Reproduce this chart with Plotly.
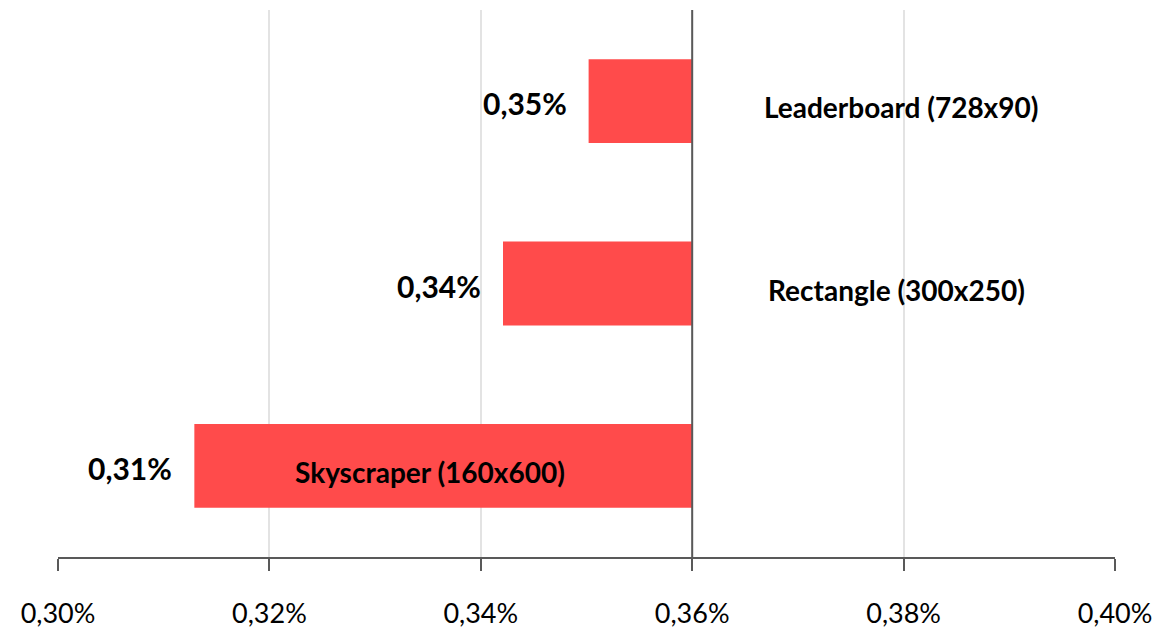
import plotly.graph_objects as go

categories = ["Leaderboard (728x90)", "Rectangle (300x250)", "Skyscraper (160x600)"]
values = [0.003502, 0.003421, 0.003129]
base_value = 0.0036
tick_vals = [0.0030, 0.0032, 0.0034, 0.0036, 0.0038, 0.0040]
# x-position (data units) for category label placement
label_x = [0.003798, 0.003793, 0.003352]

def fmt(v):
    return f"{v*100:.2f}".replace(".", ",") + "%"

fig = go.Figure()
fig.add_trace(go.Bar(
    y=categories,
    x=[v - base_value for v in values],
    base=base_value,
    orientation="h",
    marker=dict(color="#FF4B4B", line=dict(width=0)),
    width=0.46,
    hoverinfo="skip",
))

annotations = []
for c, v, lx in zip(categories, values, label_x):
    annotations.append(dict(
        x=v, y=c, xref="x", yref="y", text=fmt(v), showarrow=False,
        xanchor="right", xshift=-20, yshift=-2,
        font=dict(family="Lato", size=30, color="black", weight="bold"),
    ))
    annotations.append(dict(
        x=lx, y=c, xref="x", yref="y", text=c, showarrow=False,
        xanchor="center", yshift=-6,
        font=dict(family="Lato", size=28, color="black", weight="bold"),
    ))

fig.update_layout(
    width=1168, height=631,
    margin=dict(l=50, r=61, t=2, b=82),
    plot_bgcolor="white", paper_bgcolor="white",
    separators=",.",
    showlegend=False,
    annotations=annotations,
    shapes=[dict(type="line", xref="x", yref="paper", x0=base_value, x1=base_value,
                 y0=0, y1=1, line=dict(color="#595959", width=2))],
    font=dict(family="Lato", color="black"),
)
fig.update_xaxes(
    range=[0.0030, 0.0040], tickvals=tick_vals, tickformat=".2%",
    showgrid=True, gridcolor="#E3E3E3", gridwidth=1.5,
    showline=True, linecolor="#595959", linewidth=2,
    ticks="outside", ticklen=12, tickcolor="#595959", tickwidth=1.5,
    tickfont=dict(family="Lato", size=27, color="black"),
    ticklabelstandoff=20, zeroline=False,
)
fig.update_yaxes(
    categoryorder="array", categoryarray=categories, autorange="reversed",
    showticklabels=False, showgrid=False, zeroline=False, showline=False,
)
fig.write_html("out.html")
